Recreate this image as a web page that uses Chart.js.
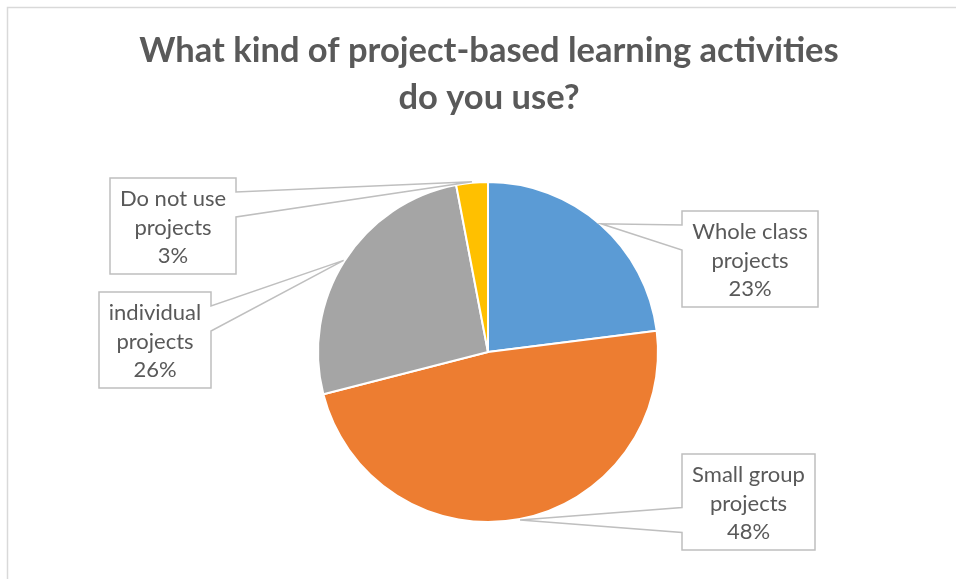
<!DOCTYPE html>
<html>
<head>
<meta charset="utf-8">
<script src="https://cdn.jsdelivr.net/npm/chart.js@4.4.1/dist/chart.umd.min.js"></script>
<style>
  html, body { margin: 0; padding: 0; background: #ffffff; }
  #wrap { width: 956px; height: 579px; position: relative; }
</style>
</head>
<body>
<div id="wrap"><canvas id="chart" width="956" height="579"></canvas></div>
<script>
// Survey answers: share of respondents (%) per kind of project work
const titleLines = ['What kind of project-based learning activities', 'do you use?'];
const categories = ['Whole class projects', 'Small group projects', 'individual projects', 'Do not use projects'];
const shares = [23, 48, 26, 3];
const sliceColors = ['#5B9BD5', '#ED7D31', '#A5A5A5', '#FFC000'];

const TEXT = '#595959';
const FRAME = '#D9D9D9';
const CALLOUT_LINE = '#BFBFBF';
const LABEL_FONT = '22px Lato, "Open Sans", sans-serif';
const TITLE_FONT = 'bold 34.5px Lato, "Open Sans", sans-serif';

// Callout box placement, relative to the pie centre.
// side: which edge of the box carries the pointer; edge: x of that edge; top: y of the box top.
const calloutPlacement = [
  { side: 'left',  edge: 194,  top: -141 },
  { side: 'left',  edge: 194,  top: 102 },
  { side: 'right', edge: -277, top: -60 },
  { side: 'right', edge: -252, top: -174 }
];

// Two-line category text: everything before the last word, then the last word
function wrapCategory(name) {
  const k = name.lastIndexOf(' ');
  return [name.slice(0, k), name.slice(k + 1)];
}

const framePlugin = {
  id: 'frame',
  beforeDraw(chart) {
    const ctx = chart.ctx;
    ctx.save();
    ctx.fillStyle = '#ffffff';
    ctx.fillRect(0, 0, chart.width, chart.height);
    ctx.strokeStyle = FRAME;
    ctx.lineWidth = 1.5;
    ctx.beginPath();
    ctx.moveTo(7.5, chart.height + 2);
    ctx.lineTo(7.5, 7.5);
    ctx.lineTo(chart.width + 2, 7.5);
    ctx.stroke();

    ctx.fillStyle = TEXT;
    ctx.font = TITLE_FONT;
    ctx.textAlign = 'center';
    ctx.textBaseline = 'alphabetic';
    ctx.fillText(titleLines[0], 489, 62);
    ctx.fillText(titleLines[1], 489, 109);
    ctx.restore();
  }
};

const calloutPlugin = {
  id: 'callouts',
  afterDatasetsDraw(chart) {
    const ctx = chart.ctx;
    const meta = chart.getDatasetMeta(0);
    const lineStep = 28.5, padX = 10, boxH = 96, halfBase = 12.5, baseInset = 26.5;
    ctx.save();
    ctx.font = LABEL_FONT;
    meta.data.forEach((arc, i) => {
      const p = arc.getProps(['x', 'y', 'startAngle', 'endAngle', 'outerRadius'], true);
      const mid = (p.startAngle + p.endAngle) / 2;
      const tip = {
        x: p.x + Math.cos(mid) * (p.outerRadius + 1),
        y: p.y + Math.sin(mid) * (p.outerRadius + 1)
      };
      const lines = wrapCategory(categories[i]).concat([shares[i] + '%']);
      const textW = Math.max(...lines.map(t => ctx.measureText(t).width));
      const boxW = Math.round(textW + 2 * padX);
      const place = calloutPlacement[i];
      const T = p.y + place.top;
      const B = T + boxH;
      let L, R;
      if (place.side === 'left') { L = p.x + place.edge; R = L + boxW; }
      else { R = p.x + place.edge; L = R - boxW; }
      const c = Math.min(Math.max(tip.y, T + baseInset), B - baseInset);
      const b1 = c - halfBase, b2 = c + halfBase;

      ctx.beginPath();
      if (place.side === 'left') {
        ctx.moveTo(L, T); ctx.lineTo(R, T); ctx.lineTo(R, B); ctx.lineTo(L, B);
        ctx.lineTo(L, b2); ctx.lineTo(tip.x, tip.y); ctx.lineTo(L, b1);
      } else {
        ctx.moveTo(L, T); ctx.lineTo(R, T); ctx.lineTo(R, b1); ctx.lineTo(tip.x, tip.y);
        ctx.lineTo(R, b2); ctx.lineTo(R, B); ctx.lineTo(L, B);
      }
      ctx.closePath();
      ctx.fillStyle = '#ffffff';
      ctx.fill();
      ctx.strokeStyle = CALLOUT_LINE;
      ctx.lineWidth = 1.5;
      ctx.lineJoin = 'miter';
      ctx.stroke();

      ctx.fillStyle = TEXT;
      ctx.textAlign = 'center';
      ctx.textBaseline = 'alphabetic';
      const cx = (L + R) / 2;
      lines.forEach((t, k) => ctx.fillText(t, cx, T + 28 + k * lineStep));
    });
    ctx.restore();
  }
};

new Chart(document.getElementById('chart'), {
  type: 'pie',
  data: {
    labels: categories,
    datasets: [{
      data: shares,
      backgroundColor: sliceColors,
      borderColor: '#ffffff',
      borderWidth: 2,
      radius: 170
    }]
  },
  options: {
    responsive: false,
    animation: false,
    devicePixelRatio: 1,
    layout: { padding: { top: 182, bottom: 57, left: 318, right: 298 } },
    plugins: {
      legend: { display: false },
      title: { display: false },
      tooltip: { enabled: false }
    }
  },
  plugins: [framePlugin, calloutPlugin]
});
</script>
</body>
</html>
